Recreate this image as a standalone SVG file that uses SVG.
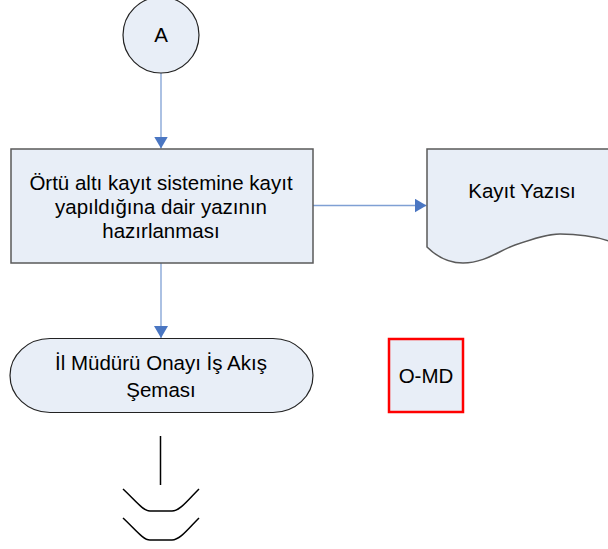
<svg xmlns="http://www.w3.org/2000/svg" width="608" height="549" viewBox="0 0 608 549">
  <defs>
    <marker id="arr" viewBox="0 0 12 14" refX="12" refY="7" markerWidth="12" markerHeight="14" markerUnits="userSpaceOnUse" orient="auto">
      <path d="M0,0 L12,7 L0,14 Z" fill="#4A76C2"/>
    </marker>
    <style>
      .shape { fill: #E8EEF7; stroke: #5a5a5a; stroke-width: 1.5; }
      .conn { fill: none; stroke: #7FA0D4; stroke-width: 1.3; marker-end: url(#arr); }
      .lbl { font-family: "Liberation Sans", Arial, sans-serif; font-size: 20.5px; fill: #000; text-anchor: middle; }
      .blk { fill: none; stroke: #000; stroke-width: 1.5; }
    </style>
  </defs>
  <rect width="608" height="549" fill="#fff"/>

  <g id="connectors">
    <line class="conn" x1="161" y1="73" x2="161" y2="148.5"/>
    <line class="conn" x1="313" y1="205.5" x2="426.5" y2="205.5"/>
    <line class="conn" x1="161" y1="263" x2="161" y2="338"/>
  </g>

  <g id="nodeA">
    <circle cx="161" cy="35" r="38" fill="#E8EEF7" stroke="#222" stroke-width="1.2"/>
    <text class="lbl" x="161" y="42">A</text>
  </g>

  <g id="process">
    <rect class="shape" x="11" y="149" width="302" height="114"/>
    <text class="lbl" x="161" y="190">Örtü altı kayıt sistemine kayıt</text>
    <text class="lbl" x="161" y="214">yapıldığına dair yazının</text>
    <text class="lbl" x="161" y="238">hazırlanması</text>
  </g>

  <g id="document">
    <path class="shape" d="M427,247 V149 H640 V250 L612,242 C595,236 575,234 560,234 C548,234 535,238 515,245 C500,250 485,263 463,263 C450,263 437,257 427,247 Z"/>
    <text class="lbl" x="522" y="198">Kayıt Yazısı</text>
  </g>

  <g id="terminal">
    <rect x="10" y="338.5" width="303" height="74" rx="40" ry="37" fill="#E8EEF7" stroke="#222" stroke-width="1.2"/>
    <text class="lbl" x="161" y="370">İl Müdürü Onayı İş Akış</text>
    <text class="lbl" x="161" y="397">Şeması</text>
  </g>

  <g id="omd">
    <rect x="389" y="339" width="74" height="73" fill="#E8EEF7" stroke="#FF0000" stroke-width="2.5"/>
    <text class="lbl" x="426" y="383">O-MD</text>
  </g>

  <g id="continuation">
    <line class="blk" x1="160.5" y1="436" x2="160.5" y2="485"/>
    <path class="blk" d="M123,489 C135,500 143,511 150,511 H172 C180,511 188,500 199,489"/>
    <path class="blk" d="M123,518 C135,529 143,540 150,540 H172 C180,540 188,529 199,518"/>
  </g>
</svg>
